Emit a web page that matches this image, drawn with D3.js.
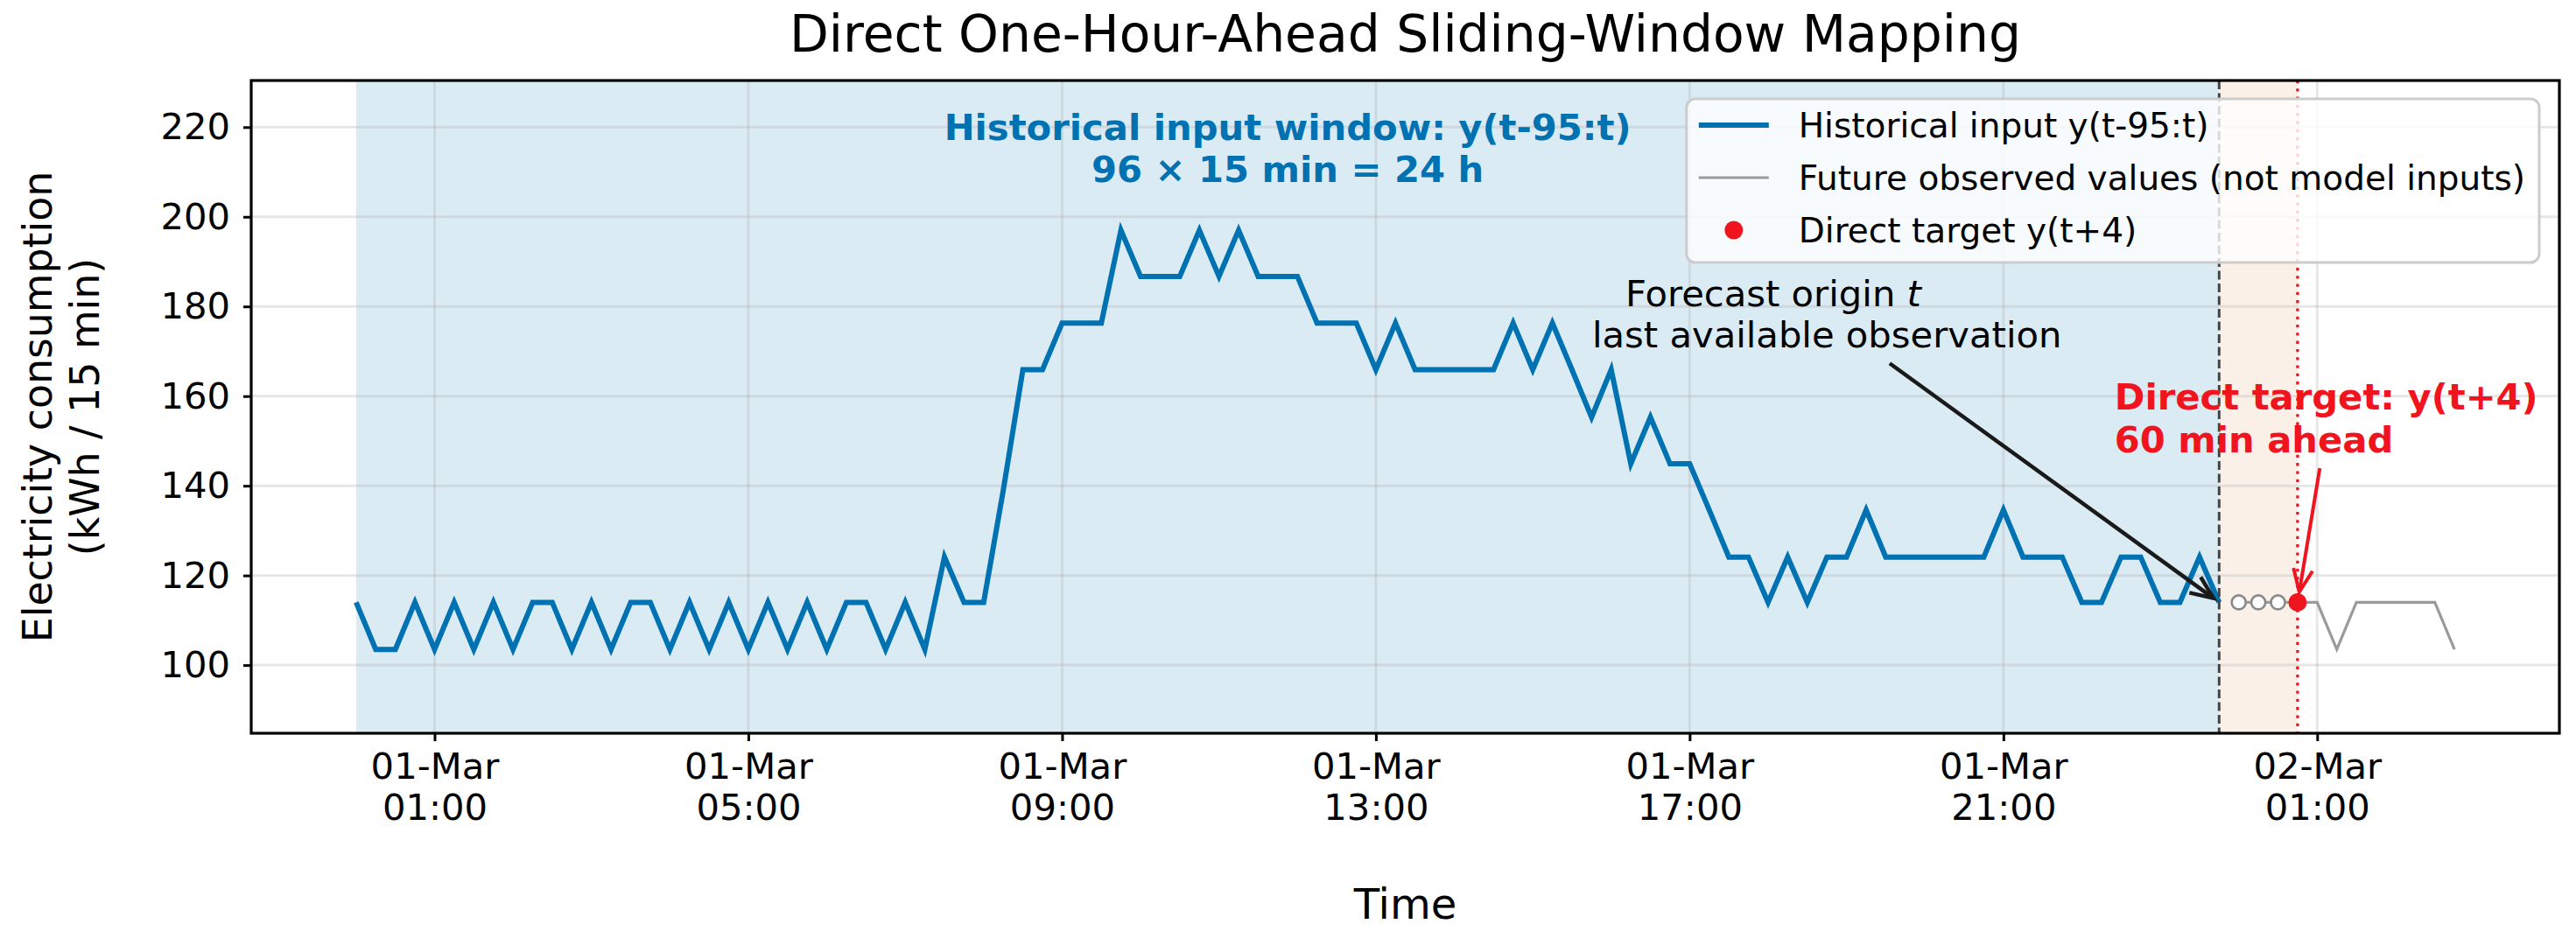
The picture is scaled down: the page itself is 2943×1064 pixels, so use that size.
<!DOCTYPE html>
<html>
<head>
<meta charset="utf-8">
<script src="https://cdn.jsdelivr.net/npm/d3@7"></script>
<style>
  body { margin: 0; background: #fff; }
  svg { display: block; font-family: "DejaVu Sans", sans-serif; }
</style>
</head>
<body>
<svg id="chart" width="2943" height="1064"></svg>
<script>
// history window y(t-95:t), one value every 15 min from 01-Mar 00:00
var startTime = "2024-03-01T00:00:00Z";
var historyValues = [
    114.0, 103.5, 103.5, 114.0, 103.5, 114.0, 103.5, 114.0, 103.5, 114.0,
    114.0, 103.5, 114.0, 103.5, 114.0, 114.0, 103.5, 114.0, 103.5, 114.0,
    103.5, 114.0, 103.5, 114.0, 103.5, 114.0, 114.0, 103.5, 114.0, 103.5,
    124.1, 114.0, 114.0, 139.0, 165.9, 165.9, 176.3, 176.3, 176.3, 197.0,
    186.7, 186.7, 186.7, 197.0, 186.7, 197.0, 186.7, 186.7, 186.7, 176.3,
    176.3, 176.3, 165.9, 176.3, 165.9, 165.9, 165.9, 165.9, 165.9, 176.3,
    165.9, 176.3, 165.9, 155.3, 165.9, 144.9, 155.3, 144.9, 144.9, 134.6,
    124.1, 124.1, 114.0, 124.1, 114.0, 124.1, 124.1, 134.6, 124.1, 124.1,
    124.1, 124.1, 124.1, 124.1, 134.6, 124.1, 124.1, 124.1, 114.0, 114.0,
    124.1, 124.1, 114.0, 114.0, 124.1, 114.0
];
// observed values after the origin, t+1 .. t+12
var futureValues = [
    114.0, 114.0, 114.0, 114.0, 114.0, 103.5,
    114.0, 114.0, 114.0, 114.0, 114.0, 103.5
];
var horizon = 4; // direct target y(t+4)

var xTickValues = [
    "2024-03-01T01:00:00Z", "2024-03-01T05:00:00Z", "2024-03-01T09:00:00Z",
    "2024-03-01T13:00:00Z", "2024-03-01T17:00:00Z", "2024-03-01T21:00:00Z",
    "2024-03-02T01:00:00Z"
];
var yTickValues = [100, 120, 140, 160, 180, 200, 220];
var yLimits = [84.8, 230.4];

var legendLabels = [
    "Historical input y(t-95:t)",
    "Future observed values (not model inputs)",
    "Direct target y(t+4)"
];

var cBlue = "#0072B2";
var cRed = "#f0141e";
var cGray = "#9a9a9a";

var svg = d3.select("#chart");
var plot = { left: 287, top: 92, right: 2924, bottom: 838 };

var stepMs = 15 * 60 * 1000;
var t0 = new Date(startTime).getTime();
var histData = historyValues.map(function (v, i) {
    return { time: new Date(t0 + i * stepMs), value: v };
});
var origin = histData[histData.length - 1];
var futData = futureValues.map(function (v, i) {
    return { time: new Date(origin.time.getTime() + (i + 1) * stepMs), value: v };
});
var target = futData[horizon - 1];

// matplotlib-like 5% margins on the time axis
var tFirst = histData[0].time.getTime();
var tLast = futData[futData.length - 1].time.getTime();
var pad = (tLast - tFirst) * 0.05;

var x = d3.scaleUtc()
    .domain([new Date(tFirst - pad), new Date(tLast + pad)])
    .range([plot.left, plot.right]);
var y = d3.scaleLinear().domain(yLimits).range([plot.bottom, plot.top]);

// shaded windows
svg.append("rect")
    .attr("x", x(histData[0].time)).attr("y", plot.top)
    .attr("width", x(origin.time) - x(histData[0].time))
    .attr("height", plot.bottom - plot.top)
    .attr("fill", cBlue).attr("fill-opacity", 0.145);
svg.append("rect")
    .attr("x", x(origin.time)).attr("y", plot.top)
    .attr("width", x(target.time) - x(origin.time))
    .attr("height", plot.bottom - plot.top)
    .attr("fill", "#D55E00").attr("fill-opacity", 0.09);

// grid
var xTicks = xTickValues.map(function (s) { return new Date(s); });
var grid = svg.append("g").attr("stroke", "#b0b0b0").attr("stroke-opacity", 0.3).attr("stroke-width", 3);
grid.selectAll(".gx").data(xTicks).enter().append("line")
    .attr("x1", function (d) { return x(d); }).attr("x2", function (d) { return x(d); })
    .attr("y1", plot.top).attr("y2", plot.bottom);
grid.selectAll(".gy").data(yTickValues).enter().append("line")
    .attr("y1", function (d) { return y(d); }).attr("y2", function (d) { return y(d); })
    .attr("x1", plot.left).attr("x2", plot.right);

var line = d3.line()
    .x(function (d) { return x(d.time); })
    .y(function (d) { return y(d.value); });

// future observed values
svg.append("path").datum(futData)
    .attr("d", line).attr("fill", "none")
    .attr("stroke", cGray).attr("stroke-width", 3.2);

// historical input
svg.append("path").datum(histData)
    .attr("d", line).attr("fill", "none")
    .attr("stroke", cBlue).attr("stroke-width", 6)
    .attr("stroke-linejoin", "miter");

// forecast origin and target markers
svg.append("line")
    .attr("x1", x(origin.time)).attr("x2", x(origin.time))
    .attr("y1", plot.top).attr("y2", plot.bottom)
    .attr("stroke", "#444").attr("stroke-width", 3)
    .attr("stroke-dasharray", "10,4.5");
svg.append("line")
    .attr("x1", x(target.time)).attr("x2", x(target.time))
    .attr("y1", plot.top).attr("y2", plot.bottom)
    .attr("stroke", cRed).attr("stroke-width", 3.3)
    .attr("stroke-dasharray", "3.3,6");

svg.selectAll(".step").data(futData.slice(0, horizon - 1)).enter().append("circle")
    .attr("cx", function (d) { return x(d.time); })
    .attr("cy", function (d) { return y(d.value); })
    .attr("r", 8).attr("fill", "#fff")
    .attr("stroke", "#8a8a8a").attr("stroke-width", 2.6);
svg.append("circle")
    .attr("cx", x(target.time)).attr("cy", y(target.value))
    .attr("r", 10.5).attr("fill", cRed);

// axes
var yAxis = svg.append("g")
    .attr("transform", "translate(" + plot.left + ",0)")
    .call(d3.axisLeft(y).tickValues(yTickValues).tickSize(9).tickPadding(15));
var xAxis = svg.append("g")
    .attr("transform", "translate(0," + plot.bottom + ")")
    .call(d3.axisBottom(x).tickValues(xTicks).tickSize(9).tickFormat(function () { return ""; }));

[yAxis, xAxis].forEach(function (g) {
    g.select(".domain").remove();
    g.selectAll(".tick line").attr("stroke", "#000").attr("stroke-width", 3);
    g.selectAll("text").attr("font-size", 41.7).attr("fill", "#000")
        .attr("font-family", "DejaVu Sans");
});
var fmtDay = d3.utcFormat("%d-%b");
var fmtHour = d3.utcFormat("%H:%M");
xAxis.selectAll(".tick text").each(function (d) {
    var t = d3.select(this).attr("dy", null).attr("y", null).text(null);
    t.append("tspan").attr("x", 0).attr("y", 52).text(fmtDay(d));
    t.append("tspan").attr("x", 0).attr("y", 99).text(fmtHour(d));
});

// spines
svg.append("rect")
    .attr("x", plot.left).attr("y", plot.top)
    .attr("width", plot.right - plot.left).attr("height", plot.bottom - plot.top)
    .attr("fill", "none").attr("stroke", "#000").attr("stroke-width", 3.2);

// titles
svg.append("text")
    .attr("x", (plot.left + plot.right) / 2).attr("y", 59)
    .attr("text-anchor", "middle").attr("font-size", 58.3)
    .text("Direct One-Hour-Ahead Sliding-Window Mapping");
svg.append("text")
    .attr("x", (plot.left + plot.right) / 2).attr("y", 1050)
    .attr("text-anchor", "middle").attr("font-size", 48)
    .text("Time");
var yMid = (plot.top + plot.bottom) / 2;
[["Electricity consumption", 59], ["(kWh / 15 min)", 113]].forEach(function (l) {
    svg.append("text")
        .attr("transform", "translate(" + l[1] + "," + yMid + ") rotate(-90)")
        .attr("text-anchor", "middle").attr("font-size", 45.8)
        .text(l[0]);
});

// annotation: historical window
var winMid = new Date((histData[0].time.getTime() + origin.time.getTime()) / 2);
var winText = svg.append("text")
    .attr("text-anchor", "middle").attr("font-size", 41.7)
    .attr("font-weight", "bold").attr("fill", cBlue);
winText.append("tspan").attr("x", x(winMid)).attr("y", y(217.1))
    .text("Historical input window: y(t-95:t)");
winText.append("tspan").attr("x", x(winMid)).attr("y", y(217.1) + 48)
    .text("96 \u00d7 15 min = 24 h");

// arrow helper: line with an open "->" head, shortened at the tip
function arrow(x1, y1, x2, y2, shrink, color, width) {
    var dx = x2 - x1, dy = y2 - y1;
    var len = Math.sqrt(dx * dx + dy * dy);
    var ux = dx / len, uy = dy / len;
    var tx = x2 - ux * shrink, ty = y2 - uy * shrink;
    var hl = 26, hw = 11;
    svg.append("line")
        .attr("x1", x1).attr("y1", y1).attr("x2", tx).attr("y2", ty)
        .attr("stroke", color).attr("stroke-width", width);
    svg.append("path")
        .attr("d", "M" + (tx - ux * hl - uy * hw) + "," + (ty - uy * hl + ux * hw) +
            "L" + tx + "," + ty +
            "L" + (tx - ux * hl + uy * hw) + "," + (ty - uy * hl - ux * hw))
        .attr("fill", "none").attr("stroke", color).attr("stroke-width", width)
        .attr("stroke-linejoin", "miter");
}

// annotation: forecast origin
var orgText = svg.append("text").attr("text-anchor", "middle")
    .attr("font-size", 41.7).attr("fill", "#000");
var l1 = orgText.append("tspan")
    .attr("x", x(new Date("2024-03-01T18:04:00Z"))).attr("y", y(180.0));
l1.append("tspan").text("Forecast origin ");
l1.append("tspan").attr("font-style", "italic").text("t");
orgText.append("tspan")
    .attr("x", x(new Date("2024-03-01T18:45:00Z"))).attr("y", y(180.0) + 47)
    .text("last available observation");
arrow(x(new Date("2024-03-01T19:33:00Z")), y(167.3),
    x(origin.time), y(origin.value), 8, "#1a1a1a", 4.5);

// annotation: direct target
var tgtText = svg.append("text").attr("text-anchor", "start")
    .attr("font-size", 41.7).attr("font-weight", "bold").attr("fill", cRed);
var tgtX = x(new Date("2024-03-01T22:25:00Z"));
tgtText.append("tspan").attr("x", tgtX).attr("y", y(157.0)).text("Direct target: y(t+4)");
tgtText.append("tspan").attr("x", tgtX).attr("y", y(157.0) + 48.5).text("60 min ahead");
arrow(x(new Date("2024-03-02T01:02:00Z")), y(143.9),
    x(target.time), y(target.value), 12, cRed, 4);

// legend
var legend = svg.append("g");
var box = legend.append("rect").attr("rx", 10)
    .attr("fill", "#fff").attr("fill-opacity", 0.8)
    .attr("stroke", "#cccccc").attr("stroke-width", 3);
var rowH = 60, handleW = 80, padL = 14, gap = 34;
var items = legend.selectAll(".item").data(legendLabels).enter().append("g")
    .attr("transform", function (d, i) { return "translate(0," + (i * rowH) + ")"; });
items.append("text")
    .attr("x", padL + handleW + gap).attr("y", 14)
    .attr("font-size", 39).attr("fill", "#000")
    .text(function (d) { return d; });
items.filter(function (d, i) { return i === 0; }).append("line")
    .attr("x1", padL).attr("x2", padL + handleW)
    .attr("stroke", cBlue).attr("stroke-width", 6);
items.filter(function (d, i) { return i === 1; }).append("line")
    .attr("x1", padL).attr("x2", padL + handleW)
    .attr("stroke", cGray).attr("stroke-width", 3.2);
items.filter(function (d, i) { return i === 2; }).append("circle")
    .attr("cx", padL + handleW / 2).attr("r", 10.5).attr("fill", cRed);

var maxW = 0;
items.selectAll("text").each(function () { maxW = Math.max(maxW, this.getComputedTextLength()); });
var boxW = padL + handleW + gap + maxW + 16;
var boxH = 187;
box.attr("x", 0).attr("y", -30).attr("width", boxW).attr("height", boxH);
legend.attr("transform", "translate(" + (plot.right - 23 - boxW) + "," + (plot.top + 21 + 30) + ")");
</script>
</body>
</html>
